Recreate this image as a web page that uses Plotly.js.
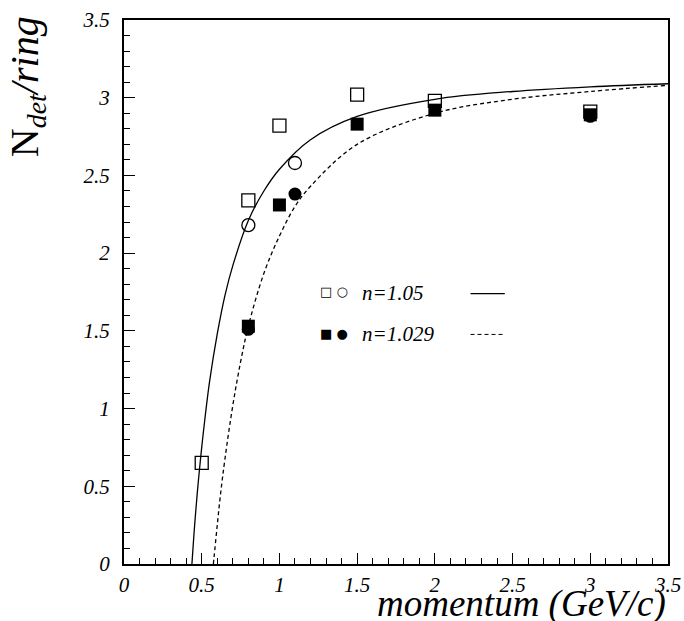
<!DOCTYPE html>
<html>
<head>
<meta charset="utf-8">
<script src="https://cdn.plot.ly/plotly-3.0.1.min.js"></script>
<style>html,body{margin:0;padding:0;background:#fff;}#chart{width:684px;height:621px;}</style>
</head>
<body>
<div id="chart"></div>
<script>
// Data
const openSquareX = [0.5, 0.8, 1.0, 1.5, 2.0, 3.0];
const openSquareY = [0.65, 2.34, 2.82, 3.02, 2.98, 2.91];
const openCircleX = [0.8, 1.1];
const openCircleY = [2.18, 2.58];
const fullSquareX = [0.8, 1.0, 1.5, 2.0, 3.0];
const fullSquareY = [1.53, 2.31, 2.83, 2.92, 2.89];
const fullCircleX = [0.8, 1.1, 3.0];
const fullCircleY = [1.51, 2.38, 2.88];

// Curves
const solidX = [0.437, 0.45, 0.46, 0.47, 0.48, 0.5, 0.52, 0.55, 0.6, 0.65, 0.7, 0.8, 0.9, 1.0, 1.2, 1.5, 2.0, 2.5, 3.0, 3.5];
const solidY = [0.0, 0.19, 0.32, 0.44, 0.55, 0.75, 0.93, 1.17, 1.48, 1.73, 1.92, 2.21, 2.40, 2.54, 2.73, 2.88, 2.99, 3.04, 3.07, 3.09];
const dashX = [0.575, 0.58, 0.6, 0.62, 0.65, 0.7, 0.75, 0.8, 0.9, 1.0, 1.1, 1.2, 1.5, 2.0, 2.5, 3.0, 3.5];
const dashY = [0.0, 0.05, 0.25, 0.44, 0.68, 1.02, 1.30, 1.53, 1.87, 2.11, 2.30, 2.43, 2.70, 2.90, 2.99, 3.04, 3.08];

const legendLabels = ["n=1.05", "n=1.029"];
const xTicks = [0, 0.5, 1, 1.5, 2, 2.5, 3, 3.5];
const yTicks = [0, 0.5, 1, 1.5, 2, 2.5, 3, 3.5];

const serif = "Liberation Serif";
const tickFont = {family: serif, size: 21, color: '#000'};

const traces = [
  {x: solidX, y: solidY, mode: 'lines', line: {color: '#000', width: 1.3, shape: 'spline'}, hoverinfo: 'skip'},
  {x: dashX, y: dashY, mode: 'lines', line: {color: '#000', width: 1.3, dash: '4px,3px', shape: 'spline'}, hoverinfo: 'skip'},
  {x: openSquareX, y: openSquareY, mode: 'markers', marker: {symbol: 'square-open', size: 13, color: '#000', line: {width: 1.3}}},
  {x: openCircleX, y: openCircleY, mode: 'markers', marker: {symbol: 'circle-open', size: 13, color: '#000', line: {width: 1.3}}},
  {x: fullSquareX, y: fullSquareY, mode: 'markers', marker: {symbol: 'square', size: 13, color: '#000'}},
  {x: fullCircleX, y: fullCircleY, mode: 'markers', marker: {symbol: 'circle', size: 13, color: '#000'}},
  // invisible trace on the overlay axes so they get drawn (minor ticks)
  {x: [0], y: [0], xaxis: 'x2', yaxis: 'y2', mode: 'markers', marker: {opacity: 0}, hoverinfo: 'skip'}
];

function makeAxis(ticks) {
  return {
    range: [0, 3.5],
    showgrid: false,
    zeroline: false,
    showline: true,
    linecolor: '#000',
    linewidth: 2,
    mirror: true,
    ticks: 'inside',
    ticklen: 11,
    tickwidth: 1,
    tickcolor: '#000',
    tickmode: 'array',
    tickvals: ticks,
    ticktext: ticks.map(v => '<i>' + v + '</i>'),
    tickfont: tickFont
  };
}
function minorAxis(extra) {
  return Object.assign({
    range: [0, 3.5],
    showgrid: false,
    zeroline: false,
    showline: false,
    ticks: 'inside',
    ticklen: 6,
    tickwidth: 1,
    tickcolor: '#000',
    tickmode: 'linear',
    tick0: 0,
    dtick: 0.1,
    showticklabels: false
  }, extra);
}

const layout = {
  width: 684,
  height: 621,
  margin: {l: 124, r: 16, t: 20, b: 57},
  paper_bgcolor: '#fff',
  plot_bgcolor: '#fff',
  font: {family: serif, size: 21, color: '#000'},
  showlegend: false,
  xaxis: Object.assign(makeAxis(xTicks), {ticklabelstandoff: 1}),
  yaxis: Object.assign(makeAxis(yTicks), {ticklabelstandoff: 8}),
  xaxis2: minorAxis({overlaying: 'x', side: 'bottom', anchor: 'y'}),
  yaxis2: minorAxis({overlaying: 'y', side: 'left', anchor: 'x'}),
  annotations: [
    {xref: 'paper', yref: 'paper', x: 1.0, y: -0.074, xanchor: 'right', yanchor: 'middle', showarrow: false,
     text: '<i>momentum (GeV/c)</i>', font: {family: serif, size: 37, color: '#000'}},
    {xref: 'paper', yref: 'paper', x: -0.178, y: 1.01, xanchor: 'center', yanchor: 'top', showarrow: false, textangle: -90,
     text: 'N<i><sub>det</sub>/ring</i>', font: {family: serif, size: 40, color: '#000'}},
    {xref: 'paper', yref: 'paper', x: 0.357, y: 0.501, xanchor: 'left', yanchor: 'middle', showarrow: false,
     text: '□ ○', font: {family: 'DejaVu Sans', size: 13, color: '#000'}},
    {xref: 'paper', yref: 'paper', x: 0.357, y: 0.424, xanchor: 'left', yanchor: 'middle', showarrow: false,
     text: '■ ●', font: {family: 'DejaVu Sans', size: 13, color: '#000'}},
    {xref: 'paper', yref: 'paper', x: 0.433, y: 0.499, xanchor: 'left', yanchor: 'middle', showarrow: false,
     text: '<i>' + legendLabels[0] + '</i>', font: {family: serif, size: 21, color: '#000'}},
    {xref: 'paper', yref: 'paper', x: 0.433, y: 0.422, xanchor: 'left', yanchor: 'middle', showarrow: false,
     text: '<i>' + legendLabels[1] + '</i>', font: {family: serif, size: 21, color: '#000'}}
  ],
  shapes: [
    {type: 'line', xref: 'paper', yref: 'paper', x0: 0.637, x1: 0.700, y0: 0.497, y1: 0.497, line: {color: '#000', width: 1.3}},
    {type: 'line', xref: 'paper', yref: 'paper', x0: 0.637, x1: 0.700, y0: 0.422, y1: 0.422, line: {color: '#000', width: 1, dash: '4px,3px'}}
  ]
};

Plotly.newPlot('chart', traces, layout, {staticPlot: true, displayModeBar: false});
</script>
</body>
</html>
